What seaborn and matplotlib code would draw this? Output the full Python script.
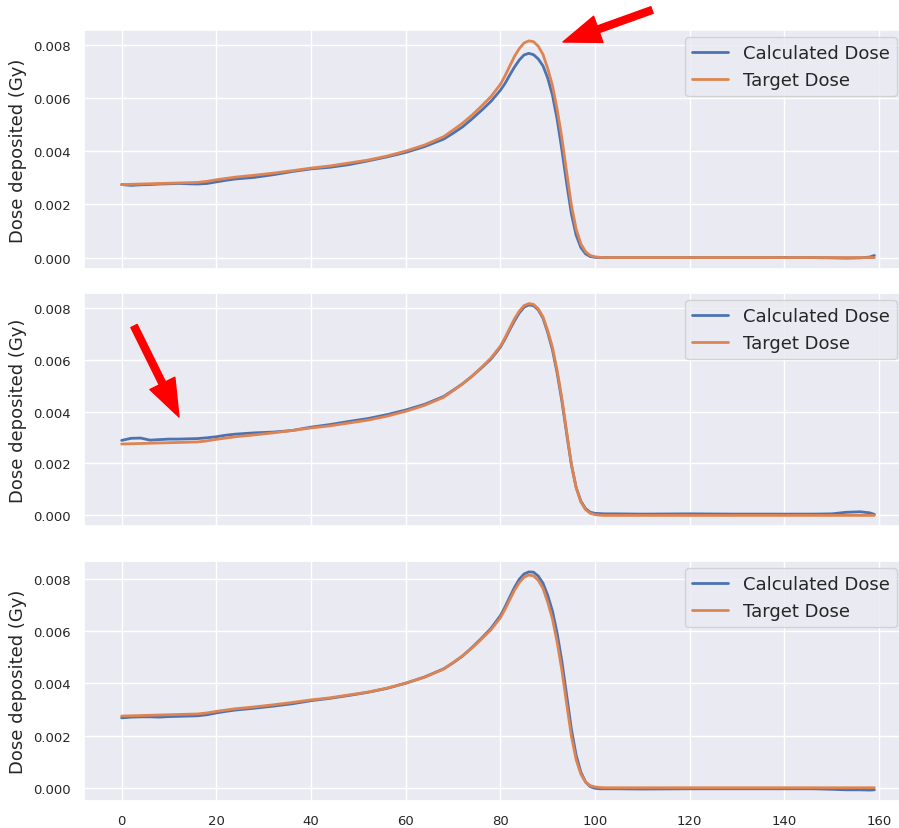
import pandas as pd
import seaborn as sns
import matplotlib.pyplot as plt

# depth positions (bins) the curves were read at
depth = [0, 2, 4, 6, 8, 10, 12, 14, 16, 18, 20, 22, 24,
         28, 32, 36, 40, 44, 48, 52, 56, 60, 64, 68, 70, 72, 74, 76, 78,
         80, 81, 82, 83, 84, 85, 86, 87, 88, 89, 90, 91, 92, 93, 94, 95,
         96, 97, 98, 99, 100, 101, 102,
         104, 110, 120, 130, 140, 146, 150, 153, 156, 158, 159]

target = [0.00275, 0.00276, 0.00277, 0.00278, 0.00279, 0.00280, 0.00281, 0.00282, 0.00283, 0.00287, 0.00293, 0.00298, 0.00303,
          0.00310, 0.00318, 0.00327, 0.00337, 0.00345, 0.00356, 0.00367, 0.00382, 0.00401, 0.00424, 0.00455, 0.00480, 0.00506, 0.00536, 0.00570, 0.00606,
          0.00652, 0.00685, 0.00722, 0.00758, 0.00787, 0.00808, 0.00816, 0.00813, 0.00796, 0.00765, 0.00712, 0.00648, 0.00558, 0.00450, 0.00322, 0.00198,
          0.00108, 0.00052, 0.00022, 0.00008, 0.00003, 0.00001, 0.0,
          0.0, 0.0, 0.0, 0.0, 0.0, 0.0, 0.0, 0.0, 0.0, 0.0, 0.0]

calc_top = [0.00275, 0.00272, 0.00274, 0.00275, 0.00277, 0.00278, 0.00279, 0.00278, 0.00277, 0.00279, 0.00285, 0.00291, 0.00296,
            0.00302, 0.00312, 0.00324, 0.00334, 0.00340, 0.00350, 0.00364, 0.00379, 0.00396, 0.00418, 0.00446, 0.00468, 0.00492, 0.00522, 0.00554, 0.00588,
            0.00630, 0.00656, 0.00688, 0.00718, 0.00744, 0.00763, 0.00769, 0.00764, 0.00748, 0.00722, 0.00676, 0.00612, 0.00520, 0.00405, 0.00280, 0.00165,
            0.00085, 0.00038, 0.00014, 0.00004, 0.00001, 0.0, 0.0,
            0.0, 0.0, 0.0, 0.0, 0.0, 0.0, -0.00001, -0.00002, -0.00001, 0.00002, 0.00008]

calc_mid = [0.00289, 0.00297, 0.00298, 0.00290, 0.00292, 0.00294, 0.00294, 0.00295, 0.00296, 0.00299, 0.00303, 0.00309, 0.00313,
            0.00318, 0.00321, 0.00327, 0.00340, 0.00350, 0.00362, 0.00373, 0.00388, 0.00406, 0.00428, 0.00458, 0.00482, 0.00507, 0.00536, 0.00568, 0.00602,
            0.00648, 0.00680, 0.00716, 0.00750, 0.00780, 0.00802, 0.00811, 0.00808, 0.00792, 0.00760, 0.00705, 0.00638, 0.00548, 0.00440, 0.00315, 0.00195,
            0.00108, 0.00055, 0.00026, 0.00012, 0.00008, 0.00007, 0.00006,
            0.00006, 0.00005, 0.00006, 0.00005, 0.00005, 0.00005, 0.00006, 0.00012, 0.00014, 0.00010, 0.00004]

calc_bot = [0.00268, 0.00271, 0.00272, 0.00272, 0.00271, 0.00273, 0.00274, 0.00275, 0.00276, 0.00280, 0.00287, 0.00293, 0.00298,
            0.00305, 0.00313, 0.00322, 0.00334, 0.00343, 0.00354, 0.00366, 0.00381, 0.00401, 0.00425, 0.00456, 0.00479, 0.00505, 0.00538, 0.00573, 0.00611,
            0.00660, 0.00694, 0.00732, 0.00769, 0.00800, 0.00820, 0.00828, 0.00827, 0.00812, 0.00785, 0.00738, 0.00678, 0.00592, 0.00484, 0.00355, 0.00225,
            0.00125, 0.00060, 0.00022, 0.00004, -0.00002, -0.00004, -0.00004,
            -0.00004, -0.00005, -0.00004, -0.00004, -0.00004, -0.00004, -0.00006, -0.00008, -0.00008, -0.00009, -0.00008]

#%%
sns.set_theme(style='darkgrid')
plt.rcParams['font.family'] = ['DejaVu Sans']

W, H = 899, 829
fig = plt.figure(figsize=(W / 100, H / 100), dpi=100)

# axes boxes in pixels: (top, bottom)
boxes = [(31, 270), (294, 527), (562, 802)]
left_px, right_px = 84, 912
axes = []
for top, bot in boxes:
    ax = fig.add_axes([left_px / W, (H - bot) / H, (right_px - left_px) / W, (bot - top) / H])
    axes.append(ax)

for ax, calc, (top, bot) in zip(axes, [calc_top, calc_mid, calc_bot], boxes):
    df = pd.DataFrame({'depth': depth, 'Calculated Dose': calc, 'Target Dose': target})
    sns.lineplot(data=df, x='depth', y='Calculated Dose', ax=ax, label='Calculated Dose', linewidth=2)
    sns.lineplot(data=df, x='depth', y='Target Dose', ax=ax, label='Target Dose', linewidth=2)
    ax.set_xlabel('')
    ax.set_ylabel('Dose deposited (Gy)', fontsize=13)
    ax.set_xticks(range(0, 161, 20))
    ax.set_yticks([0.0, 0.002, 0.004, 0.006, 0.008])
    ax.tick_params(labelsize=9.5)
    anchor = (1 - 15 / (right_px - left_px), 1 - 7 / (bot - top))
    ax.legend(loc='upper right', fontsize=13, bbox_to_anchor=anchor, borderaxespad=0)

for ax in axes[:2]:
    ax.set_xticklabels([])

# red arrows (figure pixels, origin bottom-left)
arrow = dict(color='red', width=5, headwidth=20, headlength=27, shrink=0)
axes[0].annotate('', xy=(563, H - 43), xytext=(652, H - 11), xycoords='figure pixels',
                 textcoords='figure pixels', arrowprops=arrow)
axes[1].annotate('', xy=(179, H - 418), xytext=(134, H - 327), xycoords='figure pixels',
                 textcoords='figure pixels', arrowprops=arrow)

fig.savefig('out.png', dpi=100)
